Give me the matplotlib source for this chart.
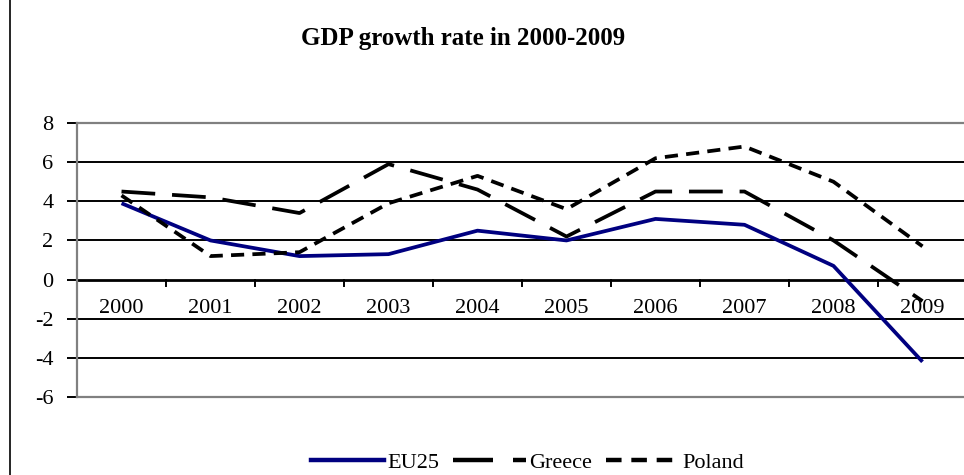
import numpy as np
import matplotlib
matplotlib.use("Agg")
from matplotlib import pyplot as plt
from matplotlib.lines import Line2D

# ---- data ----
years = ["2000", "2001", "2002", "2003", "2004", "2005", "2006", "2007", "2008", "2009"]
eu25 = [3.9, 2.0, 1.2, 1.3, 2.5, 2.0, 3.1, 2.8, 0.7, -4.2]
greece = [4.5, 4.2, 3.4, 5.9, 4.6, 2.2, 4.5, 4.5, 2.0, -1.1]
poland = [4.3, 1.2, 1.4, 3.9, 5.3, 3.6, 6.2, 6.8, 5.0, 1.7]
y_ticks = [-6, -4, -2, 0, 2, 4, 6, 8]

plt.rcParams["font.family"] = ["Liberation Serif", "DejaVu Serif"]

fig = plt.figure(figsize=(9.64, 4.75), dpi=100)
ax = fig.add_axes([0.0799, 0.1642, 0.9232, 0.5768])

x = np.arange(len(years))
ax.plot(x, eu25, color="#000080", lw=2.7, solid_capstyle="butt", zorder=3)
ax.plot(x, greece, color="black", lw=2.7, dashes=(9, 4.5), zorder=3)
ax.plot(x, poland, color="black", lw=2.7, dashes=(3.5, 2.2), zorder=3)

ax.set_xlim(-0.5, len(years) - 0.5)
ax.set_ylim(-6, 8)

# gridlines
for v in y_ticks[1:-1]:
    ax.axhline(v, color="black", lw=2.0 if v == 0 else 1.4, zorder=1)

for side in ["top", "bottom", "right", "left"]:
    ax.spines[side].set_color("#808080")
    ax.spines[side].set_linewidth(1.6)
ax.spines["right"].set_visible(False)

ax.set_yticks(y_ticks)
ax.set_yticklabels([str(v) for v in y_ticks], fontsize=16)
ax.tick_params(axis="y", length=7, width=1.4, color="black", pad=10)

# category axis crossing at zero
ax.set_xticks([])
for i in range(len(years) + 1):
    ax.plot([i - 0.5, i - 0.5], [0, -0.35], color="black", lw=1.4, clip_on=False, zorder=2)
for i, lab in enumerate(years):
    ax.text(i, -1.47, lab, ha="center", va="center", fontsize=16)

fig.text(0.48, 0.918, "GDP growth rate in 2000-2009", ha="center", va="center",
         fontsize=18, fontweight="bold")

# left border line of the chart area
fig.add_artist(Line2D([0.0105, 0.0105], [0, 1], color="black", lw=1.2))

handles = [
    Line2D([], [], color="#000080", lw=3.2),
    Line2D([], [], color="black", lw=3.2, dashes=(9, 4.5)),
    Line2D([], [], color="black", lw=3.2, dashes=(3.5, 2.2)),
]
fig.legend(handles, ["EU25", "Greece", "Poland"], loc="center", ncol=3,
           bbox_to_anchor=(0.547, 0.026), frameon=False, fontsize=16,
           handlelength=3.3, handletextpad=0.15, columnspacing=0.6,
           borderpad=0.0)

fig.savefig("out.png", dpi=100)
